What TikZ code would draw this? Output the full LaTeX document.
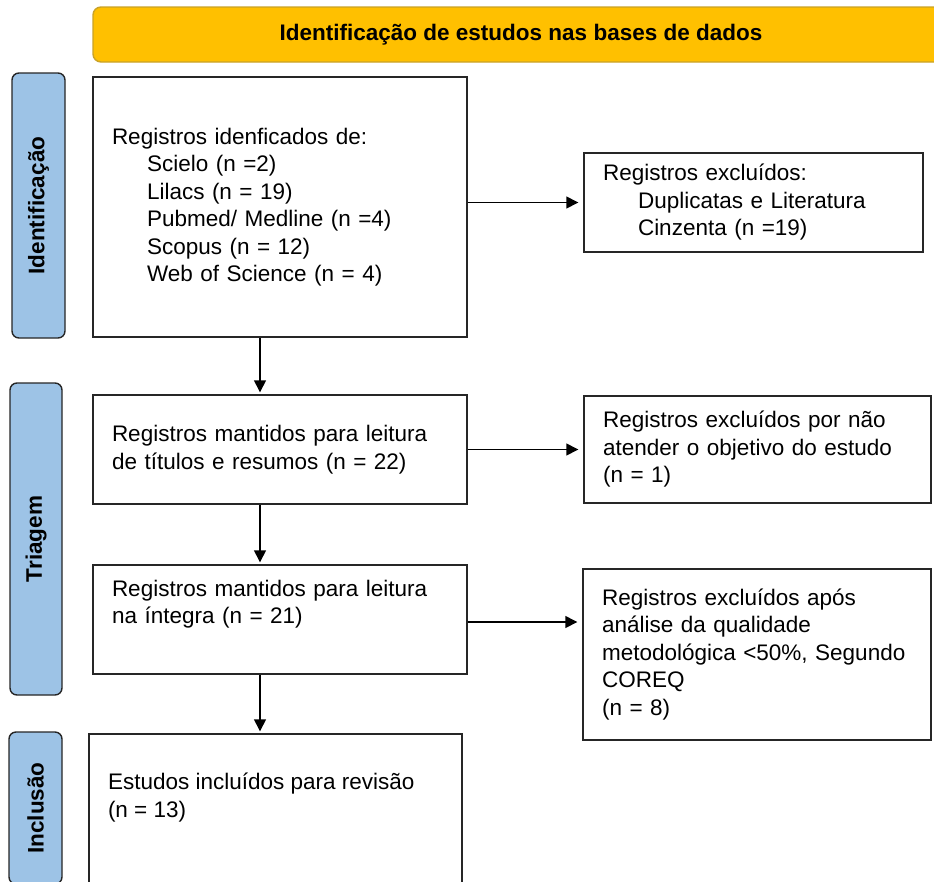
\documentclass[tikz,border=0pt]{standalone}
\usepackage{fontspec}
\setmainfont{Liberation Sans}
\usetikzlibrary{arrows.meta}
\definecolor{ouro}{HTML}{FFC000}
\definecolor{ourob}{HTML}{C9A227}
\definecolor{azul}{HTML}{9DC3E6}
\newcommand{\recuo}{\hspace*{35pt}}

\begin{document}
\begin{tikzpicture}[x=1pt,y=-1pt,line width=1.4pt,
  caixa/.style={draw=black!85,rectangle,align=left,inner xsep=19pt,inner ysep=0pt,
    font=\fontsize{22.5}{27.5}\selectfont},
  fase/.style={draw=black!85,fill=azul,rounded corners=7pt,rotate=90,inner sep=0pt,
    font=\bfseries\fontsize{22.5}{27.5}\selectfont},
  seta/.style={-{Triangle[length=12pt,width=12pt]},shorten >=2pt}]
  \useasboundingbox (0,0) rectangle (934,881);
  % titulo
  \node[draw=ourob,fill=ouro,rounded corners=8pt,minimum width=856pt,minimum height=55pt,
    font=\bfseries\fontsize{22.5}{27.5}\selectfont] (ban) at (521,34.5)
    {Identificação de estudos nas bases de dados};
  % fases
  \node[fase,minimum width=265pt,minimum height=53pt] (f1) at (38.5,205.5) {Identificação};
  \node[fase,minimum width=312pt,minimum height=52pt] (f2) at (36,539) {Triagem};
  \node[fase,minimum width=152pt,minimum height=53pt] (f3) at (35.5,808) {Inclusão};
  % caixas principais
  \node[caixa,text width=336pt,minimum height=260pt] (b1) at (280,207)
    {Registros idenficados de:\\\recuo Scielo (n =2)\\\recuo Lilacs (n = 19)\\
     \recuo Pubmed/ Medline (n =4)\\\recuo Scopus (n = 12)\\\recuo Web of Science (n = 4)};
  \node[caixa,text width=336pt,minimum height=109pt] (b2) at (280,449.5)
    {Registros mantidos para leitura\\de títulos e resumos (n = 22)};
  \node[caixa,text width=336pt,minimum height=109pt] (b3) at (280,619.5)
    {Registros mantidos para leitura\\na íntegra (n = 21)\\\strut};
  \node[caixa,minimum width=373pt,minimum height=190pt] (b4) at (275.5,829) {};
  \node[caixa,draw=none,inner xsep=0pt,anchor=north west] (t4) at ([xshift=19pt,yshift=-39pt]b4.north west)
    {Estudos incluídos para revisão\\(n = 13)};
  % excluidos
  \node[caixa,text width=301pt,minimum height=99pt] (r1) at (753.5,202.5)
    {Registros excluídos:\\\recuo Duplicatas e Literatura\\\recuo Cinzenta (n =19)};
  \node[caixa,text width=309pt,minimum height=107pt] (r2) at (757.5,449.5)
    {Registros excluídos por não\\atender o objetivo do estudo\\(n = 1)};
  \node[caixa,text width=310pt,minimum height=171pt] (r3) at (757,654.5)
    {Registros excluídos após\\análise da qualidade\\metodológica <50\%, Segundo\\COREQ\\(n = 8)};
  % setas
  \draw[seta] ([xshift=-20pt]b1.south) -- ([xshift=-20pt]b2.north);
  \draw[seta] ([xshift=-20pt]b2.south) -- ([xshift=-20pt]b3.north);
  \draw[seta] ([xshift=-20pt]b3.south) -- ([xshift=-20pt]b3.south |- b4.north);
  \draw[seta,shorten >=5pt] (b1.east |- r1.west) -- (r1.west);
  \draw[seta,shorten >=5pt] (b2.east) -- (b2.east -| r2.west);
  \draw[seta,shorten >=5pt] ([yshift=-2.5pt]b3.east) -- ([yshift=-2.5pt]b3.east -| r3.west);
\end{tikzpicture}
\end{document}
